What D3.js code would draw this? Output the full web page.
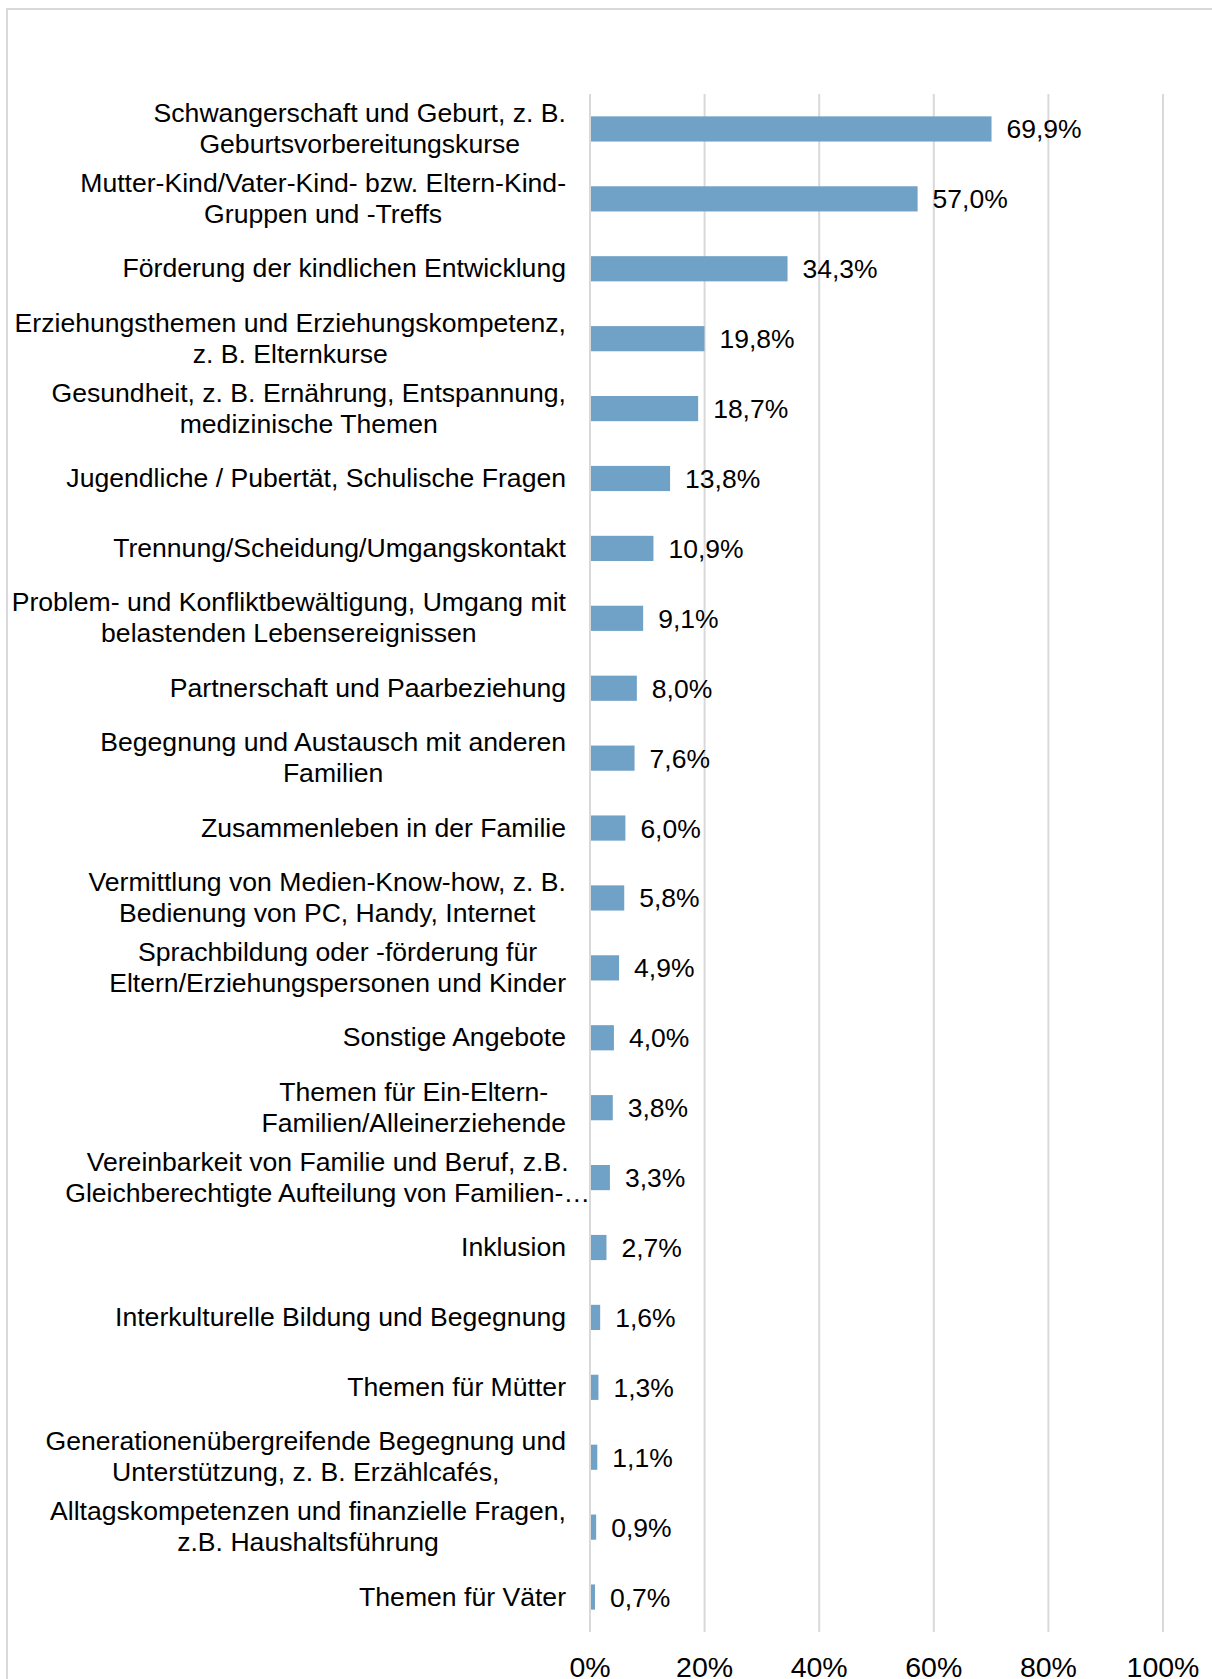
<!DOCTYPE html>
<html>
<head>
<meta charset="utf-8">
<script src="https://cdn.jsdelivr.net/npm/d3@7"></script>
<style>
  body { margin: 0; background: #fff; }
  svg { display: block; font-family: "Liberation Sans", Arial, sans-serif; }
</style>
</head>
<body>
<svg id="chart_svg" width="1212" height="1679"></svg>
<script>
// category labels, one entry per bar, already split into lines
const categories = [
  ['Schwangerschaft und Geburt, z. B.', 'Geburtsvorbereitungskurse'],
  ['Mutter-Kind/Vater-Kind- bzw. Eltern-Kind-', 'Gruppen und -Treffs'],
  ['Förderung der kindlichen Entwicklung'],
  ['Erziehungsthemen und Erziehungskompetenz,', 'z. B. Elternkurse'],
  ['Gesundheit, z. B. Ernährung, Entspannung,', 'medizinische Themen'],
  ['Jugendliche / Pubertät, Schulische Fragen'],
  ['Trennung/Scheidung/Umgangskontakt'],
  ['Problem- und Konfliktbewältigung, Umgang mit', 'belastenden Lebensereignissen'],
  ['Partnerschaft und Paarbeziehung'],
  ['Begegnung und Austausch mit anderen', 'Familien'],
  ['Zusammenleben in der Familie'],
  ['Vermittlung von Medien-Know-how, z. B.', 'Bedienung von PC, Handy, Internet'],
  ['Sprachbildung oder -förderung für', 'Eltern/Erziehungspersonen und Kinder'],
  ['Sonstige Angebote'],
  ['Themen für Ein-Eltern-', 'Familien/Alleinerziehende'],
  ['Vereinbarkeit von Familie und Beruf, z.B.', 'Gleichberechtigte Aufteilung von Familien-…'],
  ['Inklusion'],
  ['Interkulturelle Bildung und Begegnung'],
  ['Themen für Mütter'],
  ['Generationenübergreifende Begegnung und', 'Unterstützung, z. B. Erzählcafés,'],
  ['Alltagskompetenzen und finanzielle Fragen,', 'z.B. Haushaltsführung'],
  ['Themen für Väter'],
];

const values = [69.9, 57.0, 34.3, 19.8, 18.7, 13.8, 10.9, 9.1, 8.0, 7.6, 6.0, 5.8, 4.9, 4.0, 3.8, 3.3, 2.7, 1.6, 1.3, 1.1, 0.9, 0.7];

const x_ticks = [0, 20, 40, 60, 80, 100];

const plot_data = categories.map((c, i) => ({ id: i, lines: c, value: values[i] }));

/**
 * Layout of the plot area.
 */
const plot = { left: 590, right: 1163, top: 94, bottom: 1632 };
const label_right = 566;
const line_height = 31;

let svg = d3.select('#chart_svg');

// outer chart frame (right and bottom edges lie outside the picture)
svg.append('rect')
  .attr('x', 7)
  .attr('y', 9)
  .attr('width', 1240)
  .attr('height', 1720)
  .attr('fill', 'none')
  .attr('stroke', '#d9d9d9')
  .attr('stroke-width', 2);

const xScale = d3.scaleLinear()
  .domain([0, 100])
  .range([plot.left, plot.right]);

const yScale = d3.scaleBand()
  .domain(plot_data.map((d) => d.id))
  .range([plot.top, plot.bottom])
  .paddingInner(0.64)
  .paddingOuter(0.32);

/**
 * Vertical gridlines
 */
svg.append('g')
  .selectAll('line')
  .data(x_ticks)
  .enter()
  .append('line')
  .attr('x1', (d) => xScale(d))
  .attr('x2', (d) => xScale(d))
  .attr('y1', plot.top)
  .attr('y2', plot.bottom)
  .attr('stroke', '#d9d9d9')
  .attr('stroke-width', 2);

/**
 * Bars
 */
svg.append('g')
  .selectAll('rect')
  .data(plot_data)
  .enter()
  .append('rect')
  .attr('x', xScale(0) + 1)
  .attr('y', (d) => yScale(d.id))
  .attr('width', (d) => xScale(d.value) - xScale(0))
  .attr('height', yScale.bandwidth())
  .attr('fill', '#70a1c6');

/**
 * Value labels
 */
const fmt = (v) => v.toFixed(1).replace('.', ',') + '%';

svg.append('g')
  .selectAll('text')
  .data(plot_data)
  .enter()
  .append('text')
  .attr('x', (d) => xScale(d.value) + 16)
  .attr('y', (d) => yScale(d.id) + yScale.bandwidth() / 2)
  .attr('dy', '0.36em')
  .attr('font-size', 26.5)
  .attr('fill', '#000')
  .text((d) => fmt(d.value));

/**
 * Category labels: lines centred on each other, block right-aligned
 */
let g_labels = svg.append('g');

plot_data.forEach((d) => {
  let t = g_labels.append('text')
    .attr('font-size', 26.6)
    .attr('fill', '#000')
    .attr('text-anchor', 'middle');
  const cy = yScale(d.id) + yScale.bandwidth() / 2 - 1;
  const n = d.lines.length;
  let spans = d.lines.map((line, j) =>
    t.append('tspan')
      .attr('y', cy + (j - (n - 1) / 2) * line_height)
      .attr('dy', '0.36em')
      .text(line)
  );
  const widths = spans.map((s) => s.node().getComputedTextLength());
  const max_w = d3.max(widths);
  // the cut-off label in the source runs up to the axis
  const right = d.lines[n - 1].endsWith('…') ? plot.left : label_right;
  spans.forEach((s) => s.attr('x', right - max_w / 2));
});

/**
 * X axis tick labels (cut by the bottom edge, as in the source)
 */
svg.append('g')
  .selectAll('text')
  .data(x_ticks)
  .enter()
  .append('text')
  .attr('x', (d) => xScale(d))
  .attr('y', 1677)
  .attr('text-anchor', 'middle')
  .attr('font-size', 28.5)
  .attr('fill', '#000')
  .text((d) => d + '%');
</script>
</body>
</html>
